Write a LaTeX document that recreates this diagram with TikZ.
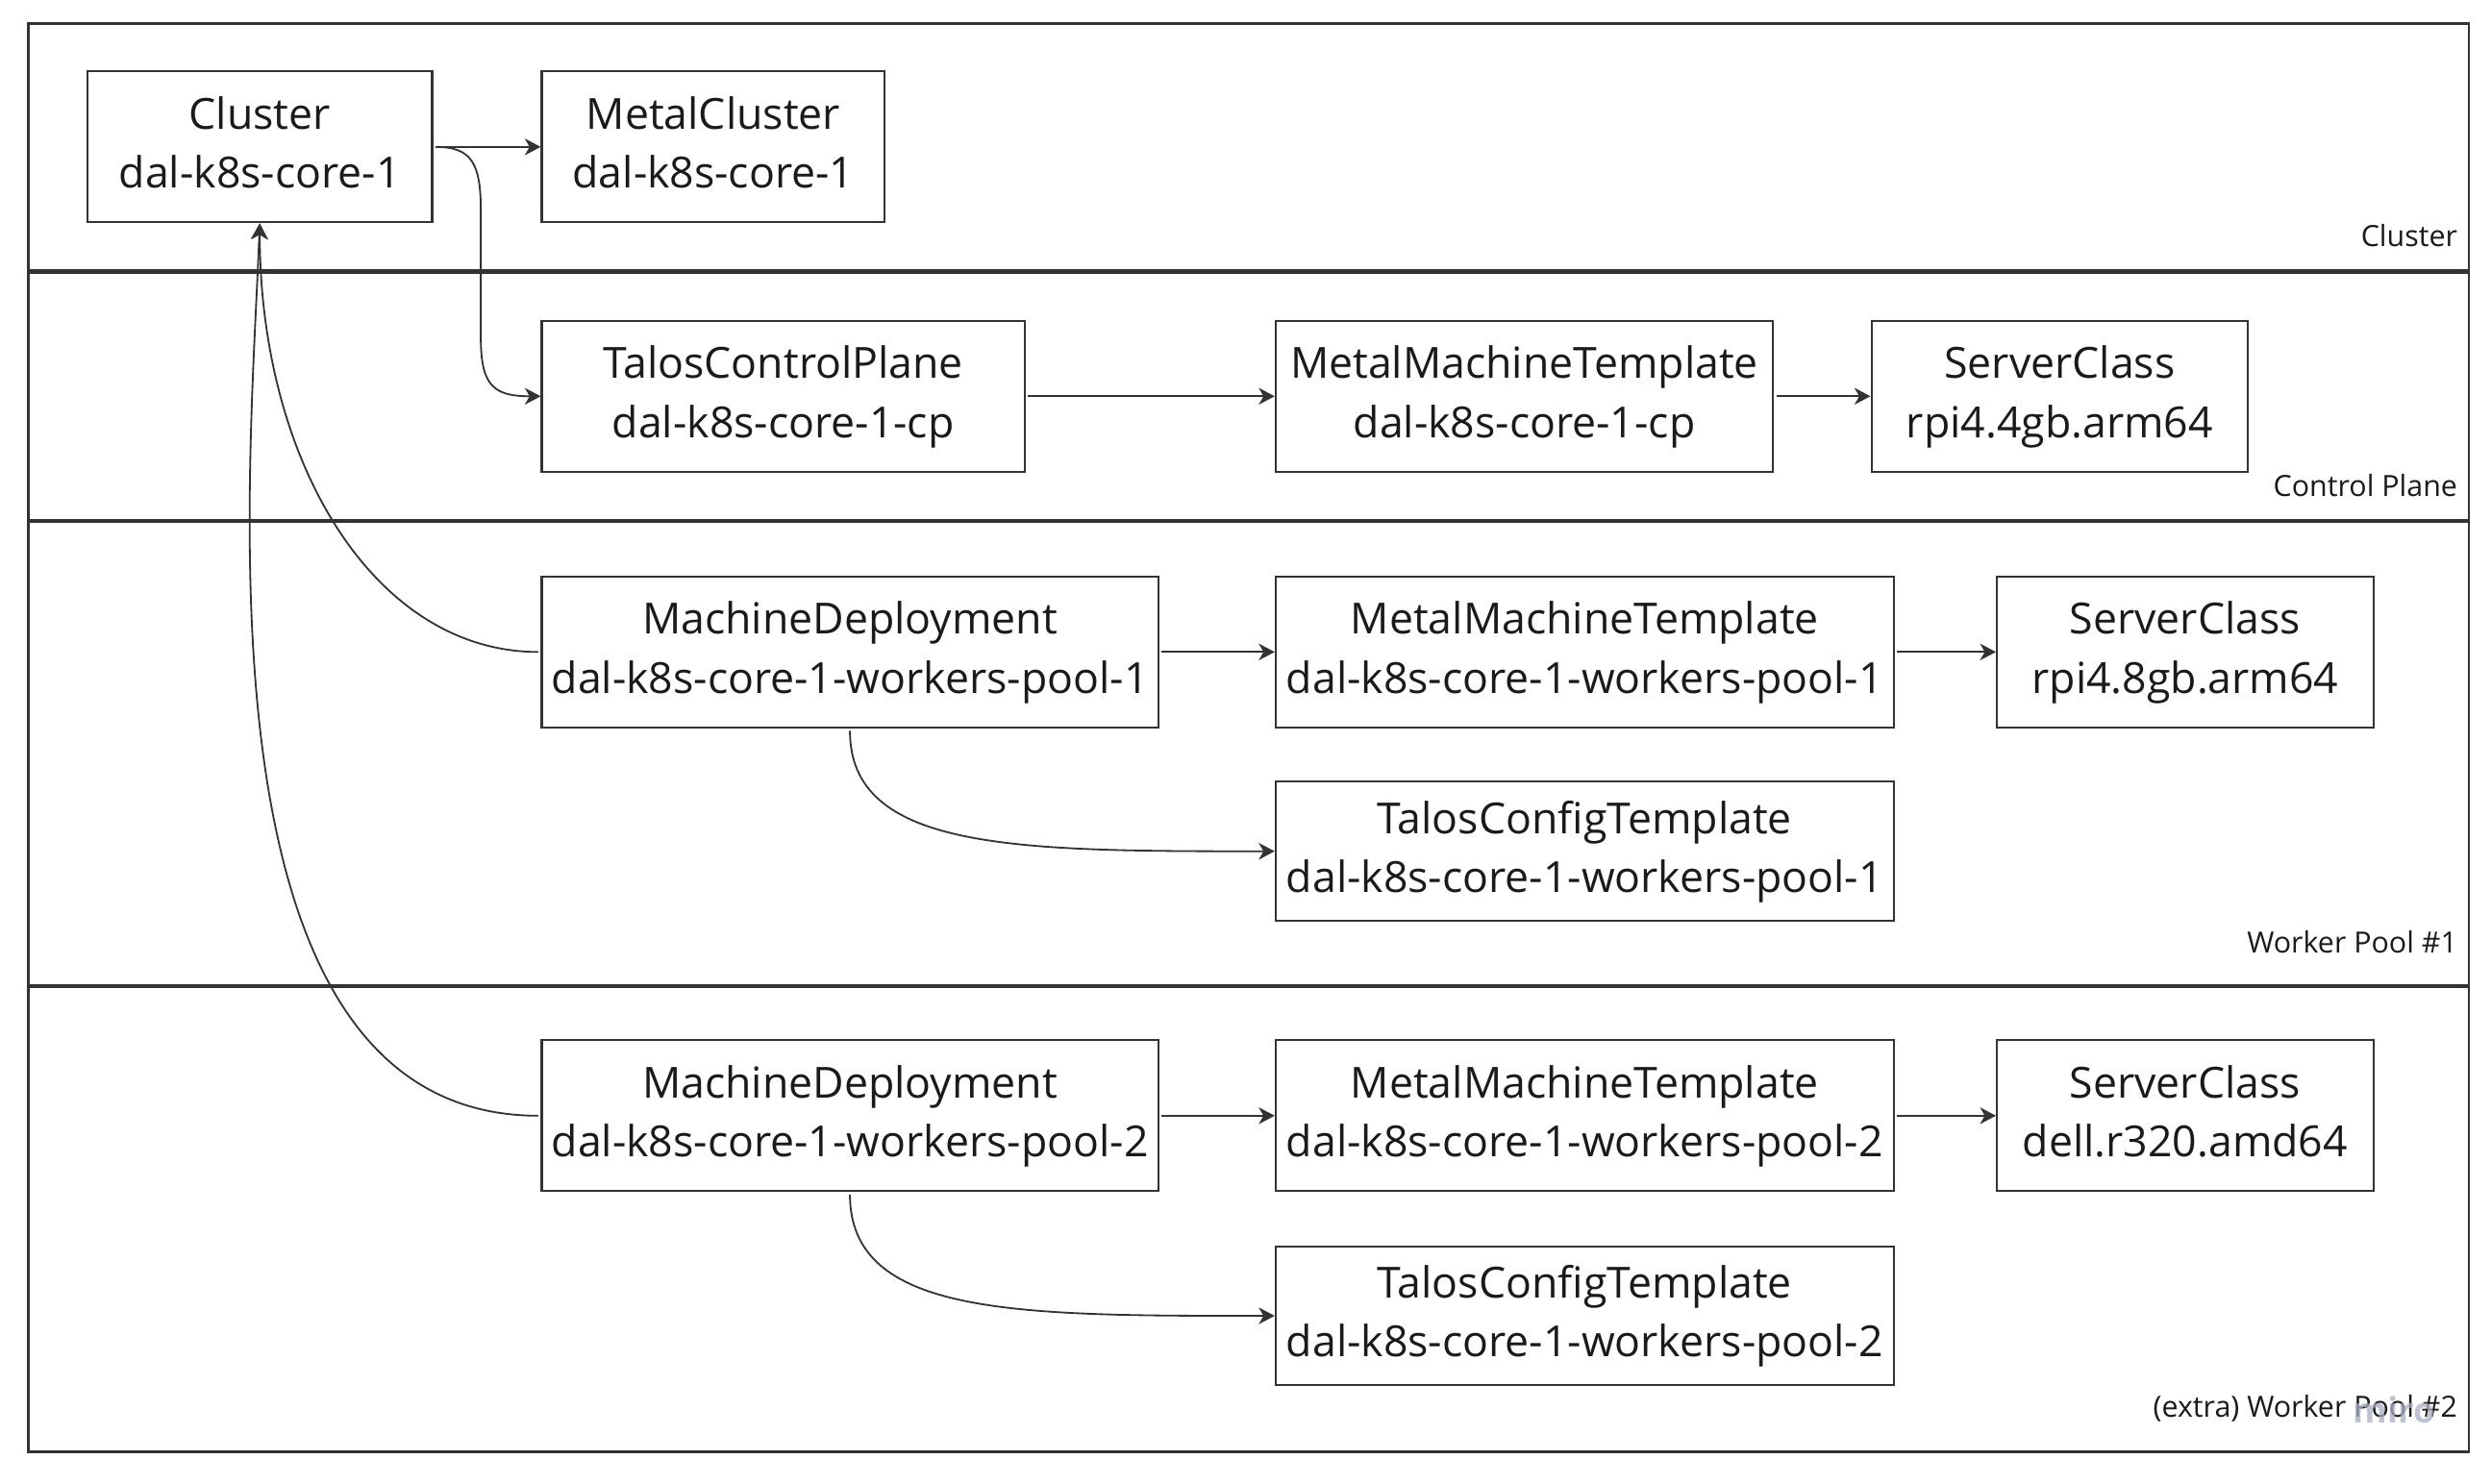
\documentclass[tikz,border=0pt]{standalone}
\usepackage{fontspec}
\setmainfont{Open Sans}
\usepackage{tikz}
\usetikzlibrary{calc,shapes,positioning}
\usetikzlibrary{arrows.meta}
\tikzset{>={Stealth[length=10pt,width=10.5pt,inset=3pt]}}
\definecolor{ink}{HTML}{333333}
\definecolor{txt}{HTML}{1A1A1A}
\definecolor{mirogrey}{HTML}{A9ADC2}
\newcommand{\kindname}[2]{#1\strut\\#2\strut}

\begin{document}
\begin{tikzpicture}[x=1pt,y=-1pt]
  \tikzstyle{obj} = [draw=ink, line width=1.3pt, rectangle, inner sep=0pt, minimum height=95pt, align=center, text=txt, font=\fontsize{27}{37}\selectfont]
  \tikzstyle{lanelabel} = [anchor=base east, inner sep=0pt, text=txt, font=\fontsize{18.4}{22}\selectfont]
  \tikzstyle{link} = [->, draw=ink, line width=1.1pt, shorten <=1.5pt]
  \useasboundingbox (0,0) rectangle (1568,934);

  % swimlanes
  \draw[ink, line width=1.6pt] (18,15) rectangle (1554,914);
  \draw[ink, line width=2.6pt] (18,171) -- (1554,171);
  \draw[ink, line width=2.6pt] (18,328) -- (1554,328);
  \draw[ink, line width=2.6pt] (18,621) -- (1554,621);

  \node[lanelabel] (lblcluster) at (1547,155.3) {Cluster};
  \node[lanelabel] (lblcp) at (1547,312.3) {Control Plane};
  \node[lanelabel] (lblwp1) at (1547,600.1) {Worker Pool \#1};
  \node[lanelabel] (lblwp2) at (1547,892.6) {(extra) Worker Pool \#2};
  \node[anchor=base west, inner sep=0pt, text=mirogrey, opacity=0.75, font=\fontsize{22}{24}\selectfont\bfseries] (wmark) at (1481,895.7) {miro};

  % cluster
  \node[obj, minimum width=217pt] (cluster) at (163.5,92.5) {\kindname{Cluster}{dal-k8s-core-1}};
  \node[obj, minimum width=216pt] (metalcluster) at (449,92.5) {\kindname{MetalCluster}{dal-k8s-core-1}};

  % control plane
  \node[obj, minimum width=304pt] (tcp) at (493,249.5) {\kindname{TalosControlPlane}{dal-k8s-core-1-cp}};
  \node[obj, minimum width=313pt] (mmtcp) at (959.5,249.5) {\kindname{MetalMachineTemplate}{dal-k8s-core-1-cp}};
  \node[obj, minimum width=237pt] (sccp) at (1296.5,249.5) {\kindname{ServerClass}{rpi4.4gb.arm64}};

  % worker pool 1
  \node[obj, minimum width=388pt] (md1) at (535,410.5) {\kindname{MachineDeployment}{dal-k8s-core-1-workers-pool-1}};
  \node[obj, minimum width=389pt] (mmt1) at (997.5,410.5) {\kindname{MetalMachineTemplate}{dal-k8s-core-1-workers-pool-1}};
  \node[obj, minimum width=237pt] (sc1) at (1375.5,410.5) {\kindname{ServerClass}{rpi4.8gb.arm64}};
  \node[obj, minimum width=389pt, minimum height=88pt] (tct1) at (997.5,536) {\kindname{TalosConfigTemplate}{dal-k8s-core-1-workers-pool-1}};

  % worker pool 2
  \node[obj, minimum width=388pt] (md2) at (535,702.5) {\kindname{MachineDeployment}{dal-k8s-core-1-workers-pool-2}};
  \node[obj, minimum width=389pt] (mmt2) at (997.5,702.5) {\kindname{MetalMachineTemplate}{dal-k8s-core-1-workers-pool-2}};
  \node[obj, minimum width=237pt] (sc2) at (1375.5,702.5) {\kindname{ServerClass}{dell.r320.amd64}};
  \node[obj, minimum width=389pt, minimum height=87pt] (tct2) at (997.5,828.5) {\kindname{TalosConfigTemplate}{dal-k8s-core-1-workers-pool-2}};

  \draw[link] (cluster.east) to (metalcluster.west);
  \draw[link] (cluster.east) .. controls +(24,0) and +(0,-30) .. ++(30,40) -- ++(0,80) .. controls +(0,30) and +(-30,0) .. (tcp.west);
  \draw[link] (md1.west) .. controls +(-105,0) and +(0,150) .. (cluster.south);
  \draw[link] (md2.west) .. controls +(-221,0) and +(-6,158) .. (cluster.south);

  \draw[link] (tcp.east) to (mmtcp.west);
  \draw[link] (mmtcp.east) to (sccp.west);

  \draw[link] (md1.east) to (mmt1.west);
  \draw[link] (mmt1.east) to (sc1.west);
  \draw[link] (md1.south) .. controls +(0,77) and +(-163,0) .. (tct1.west);

  \draw[link] (md2.east) to (mmt2.west);
  \draw[link] (mmt2.east) to (sc2.west);
  \draw[link] (md2.south) .. controls +(0,78) and +(-163,0) .. (tct2.west);
\end{tikzpicture}
\end{document}
